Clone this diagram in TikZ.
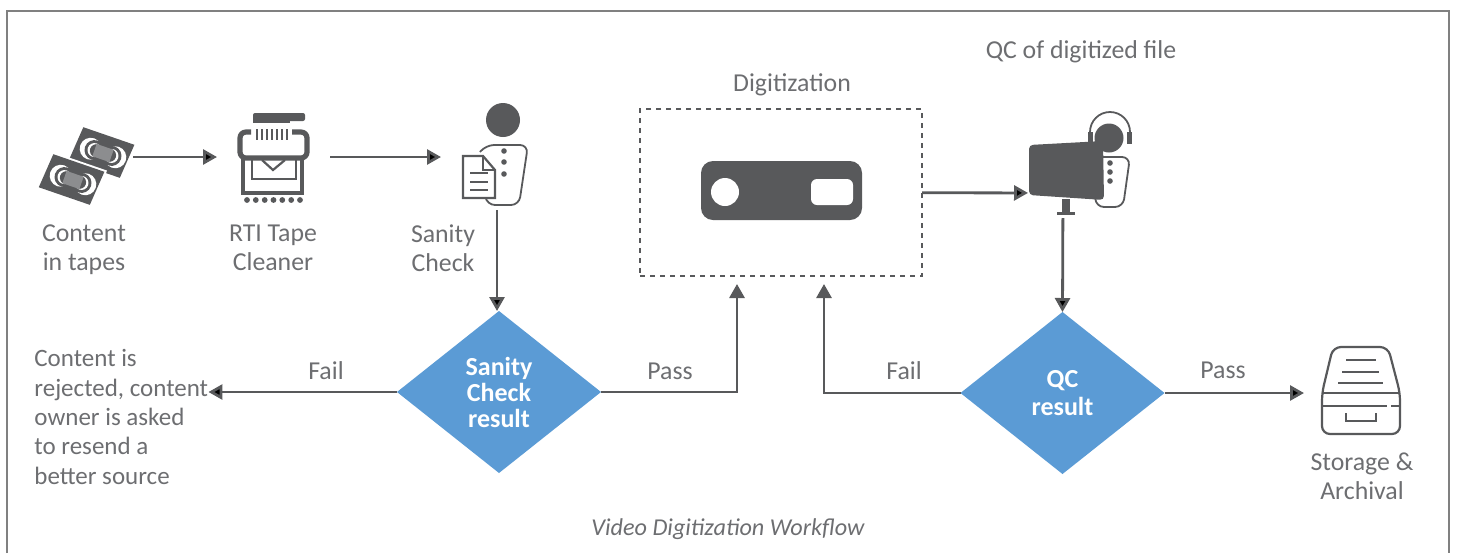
\documentclass[tikz,border=0pt]{standalone}
\usepackage{fontspec}
\setmainfont{Carlito}
\usetikzlibrary{
        arrows.meta,
        positioning,
        shapes.geometric
    }
\definecolor{icondark}{HTML}{58595B}
\definecolor{icongray}{HTML}{8C8D8F}
\definecolor{labelgray}{HTML}{6D6E71}
\definecolor{framegray}{HTML}{808080}
\definecolor{diamondblue}{HTML}{5B9BD5}
\tikzset{>={Triangle[length=7pt,width=7.5pt]}}
\tikzset{
    hook/.style={draw=none,inner sep=0pt,outer sep=0pt},
    label/.style={font=\fontsize{12.9}{14.6}\selectfont,text=labelgray,align=center,inner sep=0pt},
    decision/.style={diamond,fill=diamondblue,text=white,inner sep=0pt,outer sep=0pt,
        minimum width=102pt,minimum height=81pt,align=center,
        font=\fontsize{13}{13}\selectfont\bfseries},
    flow/.style={draw=icondark,line width=1.4pt},
    thinline/.style={draw=icondark,line width=1.1pt},
    vhstape/.pic={
        \fill[icondark] (-27,-18) -- (27,-18) -- (24,18) -- (-30,18) -- cycle;
        \foreach \s in {-1,1} {
            \fill[white] (\s*13,0) circle (11);
            \fill[icondark] (\s*9,0) circle (10);
            \fill[white] (\s*9,0) circle (7);
            \fill[icondark] (\s*7,0) circle (6.5);
        }
        \fill[icongray] (-9,-6.5) rectangle (9,6.5);
    }
}

\begin{document}
\begin{tikzpicture}[x=0.5pt,y=-0.5pt]
    \useasboundingbox (0,0) rectangle (1457,553);
    \draw[framegray,line width=1pt] (7,553) -- (7,11) -- (1449,11) -- (1449,553);

    \node[hook,minimum width=46.5pt,minimum height=53pt] (tapes) at (86.5,157) {};
    \node[hook,minimum width=56.5pt,minimum height=53pt] (cleaner) at (273.5,157) {};
    \node[hook,minimum width=56pt,minimum height=53pt] (check) at (497,157) {};
    \node[draw=icondark,line width=1pt,dash pattern=on 2.7pt off 2.3pt,inner sep=0pt,outer sep=0pt,
        minimum width=141pt,minimum height=83.5pt] (digit) at (781,192.5) {};
    \node[hook,minimum width=35pt,minimum height=25pt] (qcview) at (1063,193) {};
    \node[decision] (sanityd) at (499,392) {Sanity\\Check\\result};
    \node[decision] (qcd) at (1062.5,393) {QC\\[1pt]result};
    \node[hook,minimum width=58pt,minimum height=42pt] (storage) at (1362,393) {};
    \node[label,align=left,anchor=west,font=\fontsize{12.5}{14.7}\selectfont,minimum width=86.5pt,inner sep=0pt] (rejected) at (34,417)
        {Content is\\rejected, content\\owner is asked\\to resend a\\better source};

    \node[label] (tapeslabel) at (84,250) {Content\\in tapes};
    \node[label] (cleanerlabel) at (273,248) {RTI Tape\\Cleaner};
    \node[label] (checklabel) at (443,248) {Sanity\\Check};
    \node[label] (digitlabel) at (792,85) {Digitization};
    \node[label] (qclabel) at (1081,52) {QC of digitized file};
    \node[label] (failleft) at (326,371) {Fail};
    \node[label] (passleft) at (670,371) {Pass};
    \node[label] (failright) at (904,371) {Fail};
    \node[label] (passright) at (1223,370) {Pass};
    \node[label] (storagelabel) at (1362,476) {Storage \&\\Archival};
    \node[label,font=\fontsize{12.1}{14.6}\selectfont\itshape] (caption) at (728,529) {Video Digitization Workflow};

    \coordinate (passin) at (737,284);
    \coordinate (failin) at (824,284);

    \path[->,flow]
        (tapes) edge (cleaner)
        (cleaner) edge (check)
        (check) edge (check |- sanityd.north)
        (digit) edge (qcview)
        (qcview) edge (qcd.north)
        (sanityd) edge (sanityd -| rejected.east)
        (qcd) edge (qcd -| storage.west);
    \draw[->,flow] (sanityd.east) -| (passin);
    \draw[->,flow] (qcd.west) -| (failin);

    \pic[rotate=-19] at (103,153) {vhstape};
    \fill[white,rotate around={-19:(73,180)}] (44,160) rectangle (102,200);
    \pic[rotate=-19] at (73,180) {vhstape};

    \fill[icondark,rounded corners=1pt] (253,113) rectangle (305,121);
    \fill[icondark] (253,118) rectangle (290,123);
    \foreach \x in {257,262,...,287} \draw[icondark,line width=1.2pt] (\x,129) -- (\x,140);
    \draw[icondark,line width=2.6pt,rounded corners=3pt] (251,132) -- (240,132) -- (240,158) -- (307,158) -- (307,132) -- (292,132);
    \draw[icondark,line width=2.2pt] (243,158) -- (243,193) -- (302,193) -- (302,158);
    \draw[icondark,line width=1.1pt] (252,160) -- (252,179) -- (296,179) -- (296,160);
    \draw[icondark,line width=1.1pt] (262,160) -- (273,170) -- (285,160);
    \foreach \x in {247,255.8,264.7,273.5,282.3,291.2,300} \fill[icondark] (\x,200) circle (2.9);

    \fill[icondark] (503,120) circle (17);
    \draw[thinline,line width=0.9pt,rounded corners=4pt] (480,152) -- (486,145) -- (528,145) -- (519,205) -- (487,205) -- (484,190);
    \foreach \y in {151,162,174} \fill[icondark] (504,\y) circle (2.8);
    \draw[thinline,fill=white] (463,156) -- (483,156) -- (495,170) -- (495,198) -- (463,198) -- cycle;
    \draw[thinline,line width=0.8pt] (483,156) -- (483,170) -- (495,170);
    \foreach \y in {173,182,190} \draw[thinline,line width=0.8pt] (470,\y) -- (488,\y);

    \fill[icondark,rounded corners=6pt] (701,161) rectangle (862,220);
    \fill[white] (725,192) circle (14);
    \fill[white,rounded corners=3pt] (811,179) rectangle (853,205);

    \draw[thinline,line width=0.9pt,rounded corners=4pt] (1103,157) -- (1130,157) -- (1123,207) -- (1096,207) -- (1095,195);
    \foreach \y in {163,172,181} \fill[icondark] (1110,\y) circle (2.8);
    \fill[icondark] (1109,138) circle (14.5);
    \draw[icondark,line width=0.9pt] (1090,132) arc[start angle=180,end angle=360,radius=20];
    \fill[icondark] (1088,132) rectangle (1093,142);
    \fill[icondark] (1127,132) rectangle (1132,144);
    \fill[icondark,rounded corners=2pt] (1029,145) -- (1103,141) -- (1104,200) -- (1029,195) -- cycle;
    \fill[icondark] (1062,199) rectangle (1070,212);
    \fill[icondark] (1057,212) rectangle (1075,215);

    \draw[thinline,rounded corners=4pt] (1333,347) -- (1388,347) -- (1400,393) -- (1400,434) -- (1322,434) -- (1322,393) -- cycle;
    \draw[thinline] (1322,393) -- (1400,393);
    \draw[thinline] (1322,406) -- (1387,406);
    \draw[thinline] (1391,406) -- (1400,406);
    \draw[thinline] (1346,413) -- (1346,421) -- (1376,421) -- (1376,413);
    \draw[thinline] (1346,360) -- (1376,360);
    \draw[thinline] (1342,372) -- (1379,372);
    \draw[thinline] (1338,383) -- (1383,383);
\end{tikzpicture}
\end{document}
